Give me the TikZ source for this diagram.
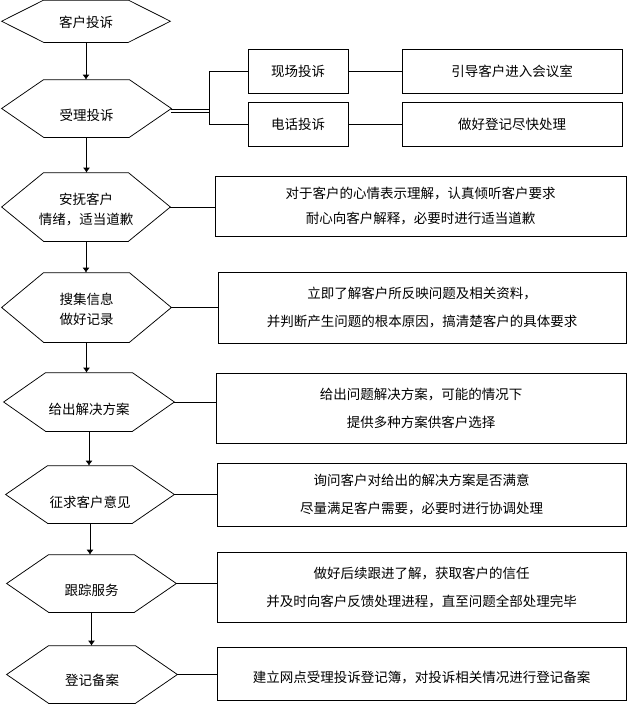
\documentclass[tikz,border=0pt]{standalone}
\usepackage{fontspec}
\newfontfamily\cjk{Noto Sans CJK SC}
\usetikzlibrary{arrows.meta}
\newcommand\mkhex[5]{%
  \node[hexshape, minimum width={#3-#2}, minimum height={#5-#4}] (#1) at ({(#2+#3)/2},{(#4+#5)/2}) {};
  \draw (#1.west) -- ([xshift=42pt]#1.north west) -- ([xshift=-42pt]#1.north east) -- (#1.east)
        -- ([xshift=-42pt]#1.south east) -- ([xshift=42pt]#1.south west) -- cycle;}
\begin{document}
\begin{tikzpicture}[x=1pt,y=-1pt,line width=0.75pt,
  hexshape/.style={inner sep=0pt},
  hextext/.style={font=\cjk\fontsize{13.5}{20}\selectfont, align=center, inner sep=0pt},
  boxnode/.style={draw, inner sep=0pt, align=center, font=\cjk\fontsize{13.5}{28}\selectfont},
  flow/.style={-{Latex[length=5pt,width=7pt]}}]
\useasboundingbox (0,0) rectangle (629,704);
% hexagons
\mkhex{h1}{2}{170}{0.5}{42}
\mkhex{h2}{2}{171}{80}{137}
\mkhex{h3}{2}{170}{173}{241}
\mkhex{h4}{2}{171}{273}{342}
\mkhex{h5}{4}{174}{373}{431}
\mkhex{h6}{6}{174}{466}{523}
\mkhex{h7}{7}{176}{555}{612}
\mkhex{h8}{7}{177}{646}{703}
% hexagon texts
\node[hextext] (t1) at (86,22) {客户投诉};
\node[hextext] (t2) at (86.5,115) {受理投诉};
\node[hextext] (t3) at (86,209.5) {安抚客户\\情绪，适当道歉};
\node[hextext] (t4) at (86.5,309.5) {搜集信息\\做好记录};
\node[hextext] (t5) at (89,409) {给出解决方案};
\node[hextext] (t6) at (90,502) {征求客户意见};
\node[hextext] (t7) at (91.5,590) {跟踪服务};
\node[hextext] (t8) at (92,680) {登记备案};
% boxes
\node[boxnode, minimum width=100, minimum height=44] (s1) at (298,71) {现场投诉};
\node[boxnode, minimum width=100, minimum height=44] (s2) at (298,124) {电话投诉};
\node[boxnode, minimum width=220, minimum height=44] (r1) at (512,71) {引导客户进入会议室};
\node[boxnode, minimum width=220, minimum height=44] (r2) at (512,124) {做好登记尽快处理};
\node[boxnode, minimum width=411, minimum height=60, font=\cjk\fontsize{13.5}{25}\selectfont] (b3) at (420.5,206) {对于客户的心情表示理解，认真倾听客户要求\\耐心向客户解释，必要时进行适当道歉};
\node[boxnode, minimum width=408, minimum height=71] (b4) at (422,307.5) {立即了解客户所反映问题及相关资料，\\并判断产生问题的根本原因，搞清楚客户的具体要求};
\node[boxnode, minimum width=410, minimum height=70] (b5) at (421,408) {给出问题解决方案，可能的情况下\\提供多种方案供客户选择};
\node[boxnode, minimum width=409, minimum height=63] (b6) at (421.5,494.5) {询问客户对给出的解决方案是否满意\\尽量满足客户需要，必要时进行协调处理};
\node[boxnode, minimum width=409, minimum height=70] (b7) at (421.5,587) {做好后续跟进了解，获取客户的信任\\并及时向客户反馈处理进程，直至问题全部处理完毕};
\node[boxnode, minimum width=409, minimum height=53] (b8) at (421.5,673.5) {\raisebox{-5pt}[10pt][2pt]{建立网点受理投诉登记簿，对投诉相关情况进行登记备案}};
% flow arrows
\foreach \a/\b in {h1/h2,h2/h3,h3/h4,h4/h5,h5/h6,h6/h7,h7/h8}
  \draw[flow] (\a.south) -- (\a.south |- \b.north);
% branch from 受理投诉
\coordinate (j) at (209,111);
\draw[double, double distance=2pt] (h2.east |- j) -- (j);
\draw (s1.west) -- (s1.west -| j) -- (s2.west -| j) -- (s2.west);
\draw (s1.east) -- (r1.west);
\draw (s2.east) -- (r2.west);
% side notes
\foreach \a/\b in {h3/b3,h4/b4,h5/b5,h6/b6,h7/b7,h8/b8}
  \draw (\a.east) -- (\a.east -| \b.west);
\end{tikzpicture}
\end{document}
